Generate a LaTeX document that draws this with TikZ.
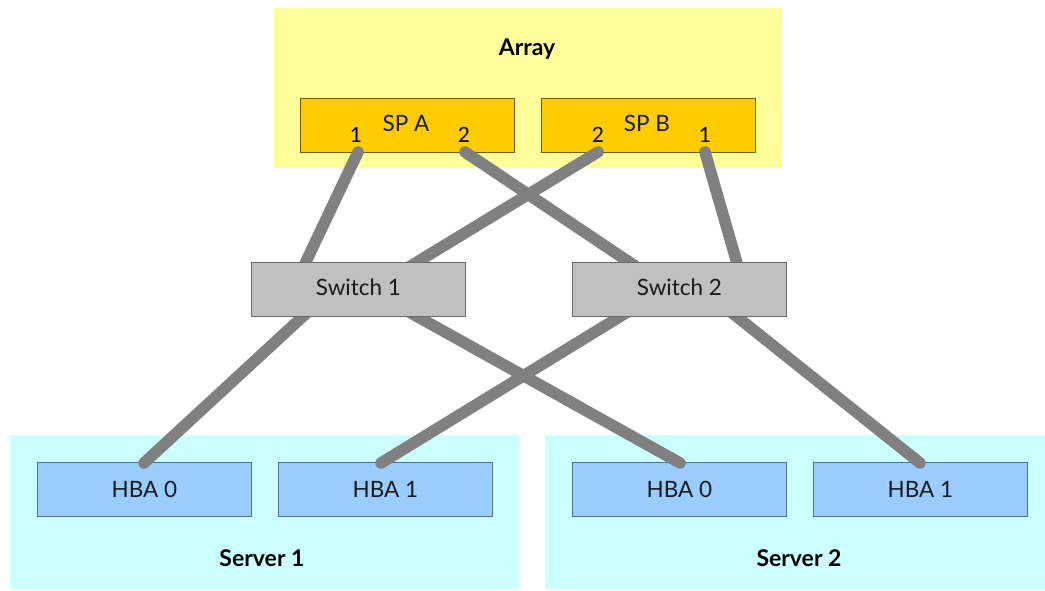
\documentclass[tikz,border=0pt]{standalone}
\usepackage{fontspec}
\setmainfont{Lato}
\pgfdeclarelayer{back}
\pgfdeclarelayer{wires}
\pgfsetlayers{back,wires,main}
\definecolor{arrbg}{HTML}{FFFF99}
\definecolor{spfill}{HTML}{FFCC00}
\definecolor{swfill}{HTML}{C0C0C0}
\definecolor{srvbg}{HTML}{CCFFFF}
\definecolor{hbafill}{HTML}{99CCFF}
\definecolor{wire}{HTML}{808080}
\definecolor{ink}{HTML}{1A1A1A}
\tikzset{
  x=1pt,y=-1pt,
  panel/.style={anchor=north west,inner sep=0pt,outer sep=0pt},
  unitbox/.style={line width=0.8pt,minimum width=214pt,minimum height=54pt,inner sep=0pt,text=ink,font=\fontsize{22.5}{25}\selectfont,anchor=north west},
  spbox/.style={unitbox,draw=black!55!spfill,fill=spfill},
  swbox/.style={unitbox,draw=black!45!swfill,fill=swfill,text height=16pt,text depth=4pt},
  hbabox/.style={unitbox,draw=black!45!hbafill,fill=hbafill,text height=16pt,text depth=0pt},
  title/.style={font=\bfseries\fontsize{23}{26}\selectfont,text=black},
  spname/.style={font=\fontsize{22.5}{25}\selectfont,text=ink,inner sep=0pt},
  portlabel/.style={font=\fontsize{21}{24}\selectfont,text=black,inner sep=0pt},
  cable/.style={draw=wire,line width=11.5pt,line cap=round}
}
\begin{document}
\begin{tikzpicture}
\useasboundingbox (0,0) rectangle (1045,590);
\begin{pgfonlayer}{back}
\fill[white] (0,0) rectangle (1045,590);
\node[panel,fill=arrbg,minimum width=507pt,minimum height=160pt] (array) at (274,8) {};
\node[panel,fill=srvbg,minimum width=509pt,minimum height=154pt] (srv1) at (10,435) {};
\node[panel,fill=srvbg,minimum width=500pt,minimum height=154pt] (srv2) at (545,435) {};
\node[spbox] (spa) at (300,98) {};
\node[spbox] (spb) at (541,98) {};
\node[hbabox] (h1) at (37,462) {HBA 0};
\node[hbabox] (h2) at (278,462) {HBA 1};
\node[hbabox] (h3) at (572,462) {HBA 0};
\node[hbabox] (h4) at (813,462) {HBA 1};
\end{pgfonlayer}
\node[title] (arrayt) at (527,49) {Array};
\node[title] (srv1t) at (262,558) {Server 1};
\node[title] (srv2t) at (799,558) {Server 2};
\node[spname] (spat) at (406,123) {SP A};
\node[spname] (spbt) at (647,123) {SP B};
\node[swbox] (sw1) at (251,262) {Switch 1};
\node[swbox] (sw2) at (572,262) {Switch 2};
\coordinate (pa1) at (358,152);
\coordinate (pa2) at (465,152);
\coordinate (pb2) at (598,152);
\coordinate (pb1) at (705,152);
\coordinate (s1t1) at (302,270);
\coordinate (s1t2) at (404,270);
\coordinate (s2t1) at (641,270);
\coordinate (s2t2) at (739,270);
\coordinate (s1b1) at (312,308);
\coordinate (s1b2) at (402,308);
\coordinate (s2b1) at (634,308);
\coordinate (s2b2) at (726,308);
\coordinate (h1t) at (144,463);
\coordinate (h2t) at (381,463);
\coordinate (h3t) at (680,463);
\coordinate (h4t) at (920,463);
\begin{pgfonlayer}{wires}
\foreach \a/\b in {pa1/s1t1,pa2/s2t1,pb2/s1t2,pb1/s2t2,s1b1/h1t,s1b2/h3t,s2b1/h2t,s2b2/h4t}
  \draw[cable] (\a) -- (\b);
\end{pgfonlayer}
\node[portlabel] (l1) at (356,135) {1};
\node[portlabel] (l2) at (464,135) {2};
\node[portlabel] (l3) at (598,135) {2};
\node[portlabel] (l4) at (705,135) {1};
\end{tikzpicture}
\end{document}
